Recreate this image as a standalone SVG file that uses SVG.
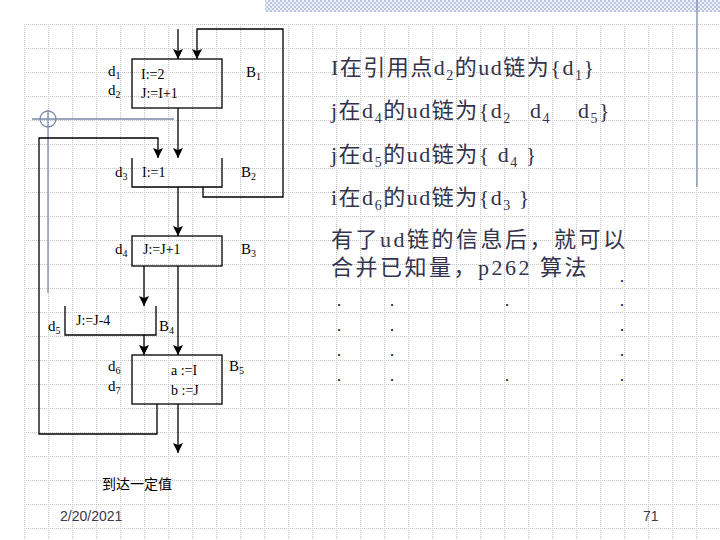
<svg xmlns="http://www.w3.org/2000/svg" width="720" height="540" viewBox="0 0 720 540">
<defs>
<pattern id="grid" x="0" y="0" width="24" height="24" patternUnits="userSpaceOnUse">
<line x1="0.5" y1="0" x2="0.5" y2="24" stroke="#c4c4c4" stroke-width="1" stroke-dasharray="1 1"/>
<line x1="0" y1="0.5" x2="24" y2="0.5" stroke="#c4c4c4" stroke-width="1" stroke-dasharray="1 1"/>
</pattern>
<pattern id="checker" x="0" y="0" width="4" height="4" patternUnits="userSpaceOnUse">
<rect width="4" height="4" fill="#eef1f8"/>
<rect x="0" y="0" width="2" height="2" fill="#bcc6e2"/>
<rect x="2" y="2" width="2" height="2" fill="#bcc6e2"/>
</pattern>
<marker id="arr" viewBox="0 0 10 10" refX="10" refY="5" markerWidth="10" markerHeight="10" markerUnits="userSpaceOnUse" orient="auto">
<path d="M0,0 L10,5 L0,10 L2,5 z" fill="#000"/>
</marker>
<style>
.ln{fill:none;stroke:#000;stroke-width:1.3}
.bx{fill:none;stroke:#000;stroke-width:1.3}
.lbl{font-family:"Liberation Serif","Noto Sans CJK SC",serif;font-size:14px;fill:#000}
.dl{font-family:"Liberation Serif",serif;font-size:15px;fill:#000}
.sub{font-size:10px}
.rt{font-family:"Liberation Serif","Noto Sans CJK SC",serif;font-size:22px;letter-spacing:1.5px;fill:#33334d}
.rt2{font-family:"Liberation Serif","Noto Sans CJK SC",serif;font-size:22px;letter-spacing:2.5px;fill:#33334d}
.rs{font-size:14px}
.dot{font-family:"Liberation Serif",serif;font-size:16px;fill:#000}
.ft{font-family:"Liberation Sans",sans-serif;font-size:14px;fill:#3a3a4a}
.deco{stroke:#7d89ad;stroke-width:1.3;fill:none}
</style>
</defs>
<rect width="720" height="540" fill="#fff"/>
<rect x="24" y="24" width="696" height="516" fill="url(#grid)"/>
<rect x="265" y="0" width="455" height="12" fill="url(#checker)"/>
<line class="deco" x1="697" y1="0" x2="697" y2="187"/>
<g id="crosshair">
<circle class="deco" cx="48" cy="119" r="8"/>
<line class="deco" x1="32" y1="119" x2="174" y2="119"/>
<line class="deco" x1="48" y1="110" x2="48" y2="293"/>
</g>

<g id="connectors">
<path class="ln" d="M178,29 V59" marker-end="url(#arr)"/>
<path class="ln" d="M203,187 V197 H283 V29 H197 V59" marker-end="url(#arr)"/>
<path class="ln" d="M178,108 V158" marker-end="url(#arr)"/>
<path class="ln" d="M157,404 V434 H39 V138 H158 V158" marker-end="url(#arr)"/>
<path class="ln" d="M178,187 V236" marker-end="url(#arr)"/>
<path class="ln" d="M144,266 V306" marker-end="url(#arr)"/>
<path class="ln" d="M178,266 V355" marker-end="url(#arr)"/>
<path class="ln" d="M144,335 V355" marker-end="url(#arr)"/>
<path class="ln" d="M178,404 V453" marker-end="url(#arr)"/>
</g>

<g id="B1">
<rect class="bx" x="132" y="59" width="90" height="49"/>
<text class="lbl" x="141" y="79">I:=2</text>
<text class="lbl" x="141" y="98">J:=I+1</text>
<text class="dl" x="246" y="77">B<tspan class="sub" dy="3">1</tspan></text>
<text class="dl" x="108" y="76">d<tspan class="sub" dy="3">1</tspan></text>
<text class="dl" x="108" y="95">d<tspan class="sub" dy="3">2</tspan></text>
</g>
<g id="B2">
<path class="bx" d="M132,158 V187 H222 V158"/>
<text class="lbl" x="142" y="177">I:=1</text>
<text class="dl" x="241" y="177">B<tspan class="sub" dy="3">2</tspan></text>
<text class="dl" x="115" y="177">d<tspan class="sub" dy="3">3</tspan></text>
</g>
<g id="B3">
<rect class="bx" x="132" y="236" width="90" height="30"/>
<text class="lbl" x="143" y="254">J:=J+1</text>
<text class="dl" x="241" y="254">B<tspan class="sub" dy="3">3</tspan></text>
<text class="dl" x="115" y="254">d<tspan class="sub" dy="3">4</tspan></text>
</g>
<g id="B4">
<path class="bx" d="M65,306 V335 H156 V306"/>
<text class="lbl" x="76" y="325">J:=J-4</text>
<text class="dl" x="159" y="331">B<tspan class="sub" dy="3">4</tspan></text>
<text class="dl" x="48" y="331">d<tspan class="sub" dy="3">5</tspan></text>
</g>
<g id="B5">
<rect class="bx" x="132" y="355" width="90" height="49"/>
<text class="lbl" x="171" y="375">a :=I</text>
<text class="lbl" x="171" y="395">b :=J</text>
<text class="dl" x="229" y="371">B<tspan class="sub" dy="3">5</tspan></text>
<text class="dl" x="108" y="371">d<tspan class="sub" dy="3">6</tspan></text>
<text class="dl" x="108" y="391">d<tspan class="sub" dy="3">7</tspan></text>
</g>
<g id="exit">
<text class="lbl" x="102" y="489" font-size="15">到达一定值</text>
</g>

<g id="notes">
<text class="rt" x="331" y="75">I在引用点d<tspan class="rs" dy="5">2</tspan><tspan dy="-5">的ud链为{d</tspan><tspan class="rs" dy="5">1</tspan><tspan dy="-5">}</tspan></text>
<text class="rt" x="331" y="118">j在d<tspan class="rs" dy="5">4</tspan><tspan dy="-5">的ud链为{d</tspan><tspan class="rs" dy="5">2</tspan><tspan x="530" dy="-5">d</tspan><tspan class="rs" dy="5">4</tspan><tspan x="578" dy="-5">d</tspan><tspan class="rs" dy="5">5</tspan><tspan dy="-5">}</tspan></text>
<text class="rt" x="331" y="162">j在d<tspan class="rs" dy="5">5</tspan><tspan dy="-5">的ud链为{ d</tspan><tspan class="rs" dy="5">4</tspan><tspan dy="-5"> }</tspan></text>
<text class="rt" x="331" y="205">i在d<tspan class="rs" dy="5">6</tspan><tspan dy="-5">的ud链为{d</tspan><tspan class="rs" dy="5">3</tspan><tspan dy="-5"> }</tspan></text>
<text class="rt2" x="331" y="247">有了ud链的信息后，就可以</text>
<text class="rt2" x="331" y="275">合并已知量，p262 算法</text>
</g>
<g id="dots">
<text class="dot" x="620" y="282">.</text>
<text class="dot" x="337" y="306">.</text><text class="dot" x="390" y="306">.</text><text class="dot" x="505" y="306">.</text><text class="dot" x="620" y="306">.</text>
<text class="dot" x="337" y="331">.</text><text class="dot" x="390" y="331">.</text><text class="dot" x="620" y="331">.</text>
<text class="dot" x="337" y="356">.</text><text class="dot" x="390" y="356">.</text><text class="dot" x="620" y="356">.</text>
<text class="dot" x="337" y="381">.</text><text class="dot" x="390" y="381">.</text><text class="dot" x="505" y="381">.</text><text class="dot" x="620" y="381">.</text>
</g>
<g id="footer">
<text class="ft" x="60" y="521">2/20/2021</text>
<text class="ft" x="643" y="521">71</text>
</g>
</svg>
